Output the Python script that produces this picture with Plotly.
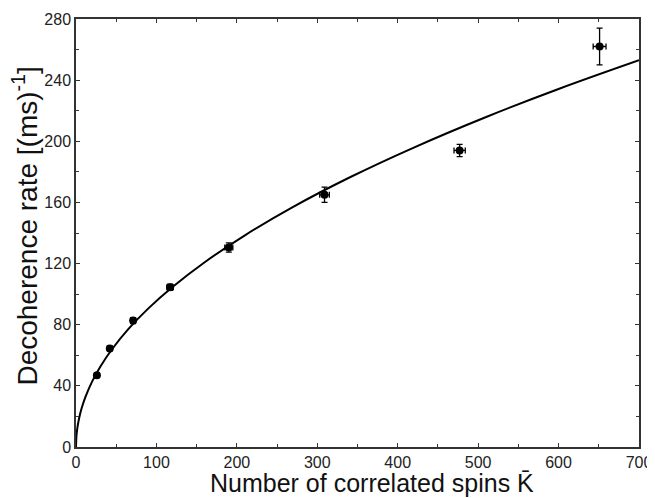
import plotly.graph_objects as go

# measured points
spins = [26, 42, 71, 117, 190, 309, 477, 651]
rate = [47, 64.5, 82.7, 104.5, 130.5, 165, 194, 262]
rate_err = [1.5, 1.5, 2, 2, 3, 5, 4, 12]
spins_err = [2, 2.5, 3, 4, 5, 6, 7, 8]

# fitted curve
fit_x = [0, 0.5, 1, 2, 4, 7, 12, 20, 30, 45, 65, 90, 120, 160, 210, 270, 340, 420, 510, 600, 700]
fit_y = [0, 6.8, 9.6, 13.5, 19.1, 25.3, 33.1, 42.8, 52.4, 64.1, 77.1, 90.7, 104.7, 120.9, 138.5, 157.1, 176.3, 195.9, 215.9, 234.2, 253]

x_title = 'Number of correlated spins K\u0304'
y_title = 'Decoherence rate [(ms)<sup>-1</sup>]'

fig = go.Figure()

# Fit line
fig.add_trace(go.Scatter(
    x=fit_x, y=fit_y, mode='lines', line=dict(color='black', width=2, shape='spline'),
    showlegend=False, hoverinfo='skip'))

# Data with error bars
fig.add_trace(go.Scatter(
    x=spins, y=rate, mode='markers',
    marker=dict(color='black', size=8, symbol='circle'),
    error_y=dict(type='data', array=rate_err, color='black', thickness=1.3, width=3),
    error_x=dict(type='data', array=spins_err, color='black', thickness=1.3, width=3),
    showlegend=False))

font_family = 'Liberation Sans, Arial, sans-serif'
axis_font = dict(family=font_family, size=16, color='#222')

fig.update_xaxes(
    range=[0, 700], dtick=100, tick0=0, showgrid=False, zeroline=False, automargin=False,
    showline=True, linecolor='#333', linewidth=1.5, mirror='ticks',
    ticks='inside', ticklen=4, tickwidth=1.2, tickcolor='#333',
    minor=dict(dtick=50, ticks='inside', ticklen=3, tickcolor='#333', showgrid=False),
    tickfont=axis_font)
fig.update_yaxes(
    range=[0, 280], dtick=40, tick0=0, showgrid=False, zeroline=False, automargin=False,
    showline=True, linecolor='#333', linewidth=1.5, mirror='ticks',
    ticks='inside', ticklen=4, tickwidth=1.2, tickcolor='#333',
    minor=dict(dtick=20, ticks='inside', ticklen=3, tickcolor='#333', showgrid=False),
    tickfont=axis_font)

# axis titles as annotations so they sit where the original has them
fig.add_annotation(text=x_title, xref='paper', yref='paper', x=0.526, y=0,
                   xanchor='center', yanchor='middle', yshift=-36, showarrow=False,
                   font=dict(family=font_family, size=25, color='#111'))
fig.add_annotation(text=y_title, xref='paper', yref='paper', x=0, y=0.515,
                   xanchor='center', yanchor='middle', xshift=-51, textangle=-90,
                   showarrow=False, font=dict(family=font_family, size=28, color='#111'))

# page body has an 8px margin, so the figure is a bit smaller than the window
fig.update_layout(
    width=647, height=490,
    margin=dict(l=68, r=16, t=11, b=51),
    plot_bgcolor='white', paper_bgcolor='white')

fig.write_html('out.html')
